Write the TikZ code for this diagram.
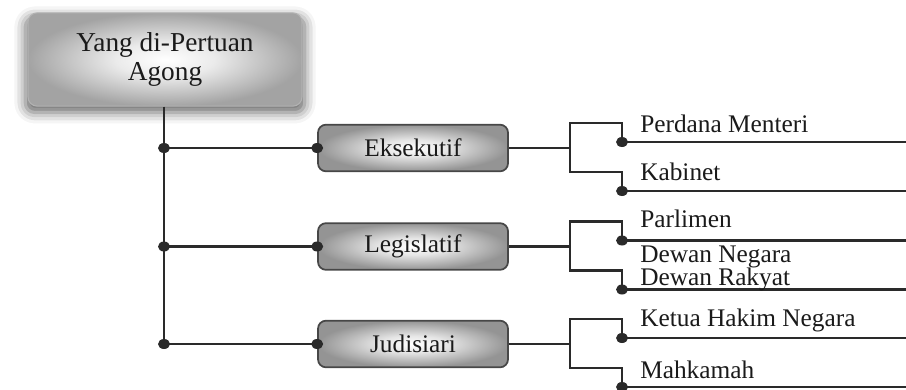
\documentclass[tikz,border=0pt]{standalone}
\usepackage{fontspec}
\setmainfont{Liberation Serif}
\usetikzlibrary{shadows.blur,shapes.geometric}
\definecolor{ln}{HTML}{2A2A2A}
\definecolor{tx}{HTML}{1A1A1A}
\pgfdeclareradialshading{subsh}{\pgfpoint{0bp}{0bp}}{color(0bp)=(white); color(9bp)=(white!90!black); color(25bp)=(black!42); color(50bp)=(black!42)}
\pgfdeclareradialshading{mainsh}{\pgfpoint{0bp}{0bp}}{color(0bp)=(white); color(9bp)=(white!92!black); color(25bp)=(black!36); color(50bp)=(black!36)}
\begin{document}
\begin{tikzpicture}[x=0.75pt,y=-0.75pt,
  line/.style={draw=ln,line width=1.8pt},
  dot/.style={shape=ellipse,fill=ln,inner sep=0pt,minimum width=9pt,minimum height=7.5pt},
  box/.style={rectangle,rounded corners=6pt,draw=black!72,line width=1.3pt,shade,shading=subsh,
    minimum width=142.5pt,minimum height=35pt,font=\fontsize{19}{20}\selectfont,text=tx},
  mainbox/.style={rectangle,rounded corners=7pt,draw=black!30,line width=0.8pt,shade,shading=mainsh,
    minimum width=205.5pt,minimum height=70pt,align=center,font=\fontsize{20.5}{22}\selectfont,text=tx,
    blur shadow={shadow xshift=0pt,shadow yshift=-4pt,shadow blur radius=8pt,shadow opacity=60,shadow scale=1.02}},
  lab/.style={anchor=base west,inner sep=0pt,font=\fontsize{19}{20}\selectfont,text=tx}]
\useasboundingbox (0,0) rectangle (906,389);
\node[mainbox] (main) at (165,59.5) {Yang di-Pertuan\\Agong};
\foreach \n/\y/\t in {e/148/Eksekutif,l/246.5/Legislatif,j/344/Judisiari}{
  \node[box] (\n) at (413,\y) {\t};
  \node[dot] (\n0) at (164,\y) {};
  \coordinate (\n B) at (570,\y);
  \coordinate (\n T) at (570,\y-25);
  \coordinate (\n D) at (570,\y+24);
  \coordinate (\n1r) at (906,\y-6);
  \coordinate (\n2r) at (906,\y+43);
  \draw[line] (\n0.center) -- (\n.west);
  \draw[line] (\n.east) -- (\n B);
  \node[dot] (\n L) at (\n.west) {};
  \node[dot] (\n1) at (622,\y-6) {};
  \node[dot] (\n2) at (622,\y+43) {};
  \draw[line] (\n1.center) |- (\n T) -- (\n D) -| (\n2.center);
  \draw[line] (\n1.center) -- (\n1r);
  \draw[line] (\n2.center) -- (\n2r);
}
\draw[line] (main.south -| e0.center) -- (j0.center);
\node[lab] (t1) at (640,132) {Perdana Menteri};
\node[lab] (t2) at (640,180) {Kabinet};
\node[lab] (t3) at (640,227) {Parlimen};
\node[lab] (t4) at (640,262) {Dewan Negara};
\node[lab] (t5) at (640,285) {Dewan Rakyat};
\node[lab] (t6) at (640,326) {Ketua Hakim Negara};
\node[lab] (t7) at (640,378) {Mahkamah};
\end{tikzpicture}
\end{document}
